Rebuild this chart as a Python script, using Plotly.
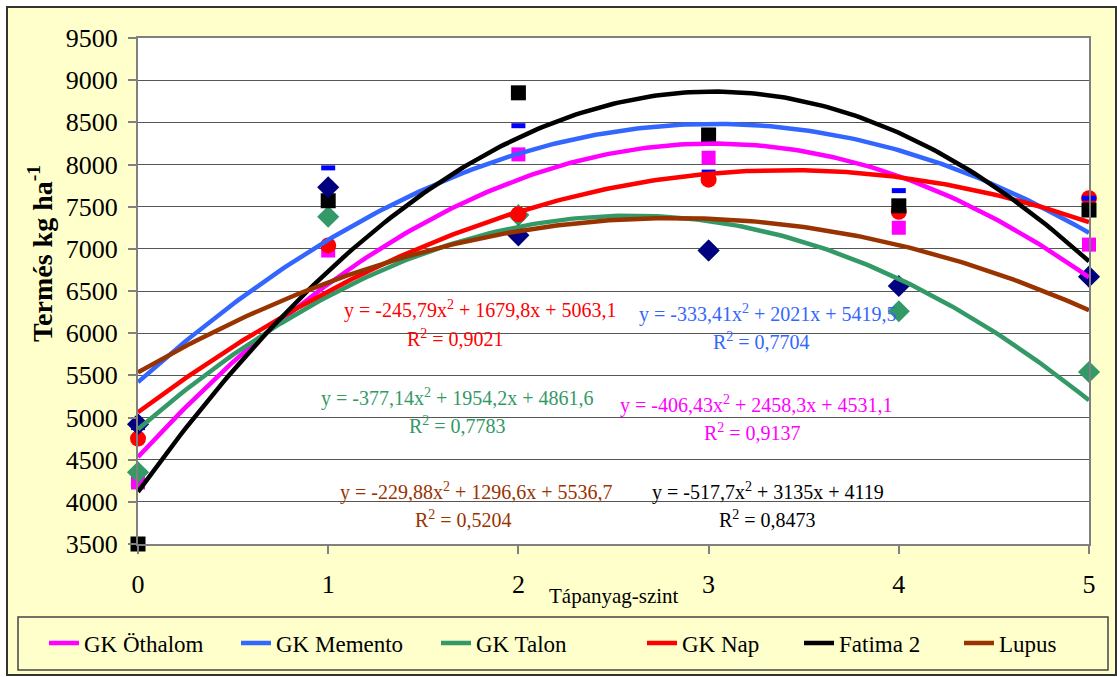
import numpy as np
import plotly.graph_objects as go

# ---------------- data ----------------
levels = [0, 1, 2, 3, 4, 5]
series_names = ["GK Öthalom", "GK Memento", "GK Talon", "GK Nap", "Fatima 2", "Lupus"]

othalom = [4230, 6980, 8120, 8080, 7250, 7050]
memento = [4880, 7960, 8460, 7910, 7690, 7600]
talon = [4350, 7380, 7400, 6980, 6260, 5540]
nap = [4750, 7040, 7410, 7820, 7440, 7600]
fatima = [3500, 7570, 8850, 8350, 7510, 7460]
lupus = [4920, 7730, 7160, 6980, 6560, 6670]

# polynomial trendline coefficients (a, b, c) for y = a x^2 + b x + c, as printed on chart
coef_othalom = [-406.43, 2458.3, 4531.1]
coef_memento = [-333.41, 2021.0, 5419.5]
coef_talon = [-377.14, 1954.2, 4861.6]
coef_nap = [-245.79, 1679.8, 5063.1]
coef_fatima = [-517.7, 3135.0, 4119.0]
coef_lupus = [-229.88, 1296.6, 5536.7]

eq_texts = [
    "y = -406,43x<sup>2</sup> + 2458,3x + 4531,1",
    "y = -333,41x<sup>2</sup> + 2021x + 5419,5",
    "y = -377,14x<sup>2</sup> + 1954,2x + 4861,6",
    "y = -245,79x<sup>2</sup> + 1679,8x + 5063,1",
    "y = -517,7x<sup>2</sup> + 3135x + 4119",
    "y = -229,88x<sup>2</sup> + 1296,6x + 5536,7",
]
r2_texts = [
    "R<sup>2</sup> = 0,9137",
    "R<sup>2</sup> = 0,7704",
    "R<sup>2</sup> = 0,7783",
    "R<sup>2</sup> = 0,9021",
    "R<sup>2</sup> = 0,8473",
    "R<sup>2</sup> = 0,5204",
]
x_title = "Tápanyag-szint"
y_title = "<b>Termés kg ha<sup>-1</sup></b>"

# ---------------- styles ----------------
FONT = "Liberation Serif, Times New Roman, serif"
line_colors = ["#FF00FF", "#3366FF", "#339966", "#FF0000", "#000000", "#993300"]
values = [othalom, memento, talon, nap, fatima, lupus]
coefs = [coef_othalom, coef_memento, coef_talon, coef_nap, coef_fatima, coef_lupus]

marker_styles = {
    0: dict(symbol="square", size=14, color="#FF00FF"),
    1: dict(symbol="line-ew", size=10, color="#0000FF", line=dict(color="#0000FF", width=5)),
    2: dict(symbol="diamond", size=17, color="#339966"),
    3: dict(symbol="circle", size=16, color="#FF0000"),
    4: dict(symbol="square", size=15, color="#000000"),
    5: dict(symbol="diamond", size=17, color="#000080"),
}
marker_order = [0, 2, 3, 1, 4, 5]

# annotation positions (data coords) for equations
eq_pos = [(3.25, 5160), (3.31, 6239), (1.68, 5243), (1.80, 6275), (3.31, 4117), (1.78, 4117)]
r2_pos = [(3.23, 4828), (3.28, 5907), (1.68, 4911), (1.67, 5943), (3.31, 3796), (1.71, 3796)]

fig = go.Figure()

for i in marker_order:
    ms = dict(marker_styles[i])
    ms.setdefault("line", dict(width=0))
    fig.add_trace(go.Scatter(
        x=levels, y=values[i], mode="markers", marker=ms,
        showlegend=False, cliponaxis=False, hoverinfo="skip", name=series_names[i]))

xs = np.linspace(0, 5, 201)
legend_ids = ["legend", "legend2", "legend3", "legend4", "legend5", "legend6"]
for i in range(6):
    a, b, c = coefs[i]
    ys = a * xs ** 2 + b * xs + c
    fig.add_trace(go.Scatter(
        x=xs, y=ys, mode="lines", line=dict(color=line_colors[i], width=4.5),
        name=series_names[i], legend=legend_ids[i], showlegend=True))

for i in range(6):
    fig.add_annotation(x=eq_pos[i][0], y=eq_pos[i][1], xref="x", yref="y", text=eq_texts[i],
                       xanchor="center", yanchor="middle",
                       showarrow=False, font=dict(family=FONT, size=20, color=line_colors[i]))
    fig.add_annotation(x=r2_pos[i][0], y=r2_pos[i][1], xref="x", yref="y", text=r2_texts[i],
                       xanchor="center", yanchor="middle",
                       showarrow=False, font=dict(family=FONT, size=20, color=line_colors[i]))

# pixel helpers for layout (plot area 138..1089 x, 38..544 y)
PL, PR, PT, PB = 138, 1089, 38, 544
def px(x):
    return (x - PL) / (PR - PL)
def py(y):
    return (PB - y) / (PB - PT)

# axis titles
fig.add_annotation(x=px(40), y=py(254), xref="paper", yref="paper",
                   xanchor="center", yanchor="middle",
                   text=y_title, textangle=-90, showarrow=False,
                   font=dict(family=FONT, size=28, color="black"))
fig.add_annotation(x=0.5, y=py(596), xref="paper", yref="paper", text=x_title,
                   xanchor="center", yanchor="middle",
                   showarrow=False, font=dict(family=FONT, size=21, color="black"))

shapes = [
    dict(type="rect", xref="paper", yref="paper", x0=px(7), x1=px(1116), y0=py(675), y1=py(7),
         fillcolor="#FFFFCC", line=dict(color="#333333", width=2), layer="below"),
    dict(type="rect", xref="paper", yref="paper", x0=0, x1=1, y0=0, y1=1,
         fillcolor="white", line=dict(width=0), layer="below"),
    dict(type="rect", xref="paper", yref="paper", x0=px(18), x1=px(1108), y0=py(670), y1=py(617),
         fillcolor="rgba(0,0,0,0)", line=dict(color="#444444", width=1.5), layer="above"),
]

legend_starts = [44, 236, 436, 642, 799, 959]
legend_layouts = {}
for i, lid in enumerate(legend_ids):
    legend_layouts[lid] = dict(
        x=px(legend_starts[i]), y=py(643), xanchor="left", yanchor="middle",
        orientation="h", bgcolor="rgba(0,0,0,0)", borderwidth=0,
        font=dict(family=FONT, size=23, color="black"))

fig.update_layout(
    width=1117, height=677,
    margin=dict(l=PL, r=1117 - PR, t=PT, b=677 - PB),
    paper_bgcolor="white", plot_bgcolor="white",
    font=dict(family=FONT, color="black"),
    shapes=shapes,
    **legend_layouts,
)

fig.update_xaxes(
    range=[0, 5], dtick=1, tick0=0, showgrid=False, zeroline=False,
    ticks="outside", ticklen=8, tickcolor="#808080", tickwidth=1.5,
    showline=True, linecolor="#808080", linewidth=2, mirror=True,
    ticklabelstandoff=8,
    tickfont=dict(family=FONT, size=26, color="black"),
)
fig.update_yaxes(
    range=[3500, 9500], dtick=500, tick0=3500, showgrid=True, gridcolor="#555555", gridwidth=1,
    zeroline=False, ticks="outside", ticklen=8, tickcolor="#808080", tickwidth=1.5,
    showline=True, linecolor="#808080", linewidth=2, mirror=True,
    ticklabelstandoff=5,
    tickfont=dict(family=FONT, size=26, color="black"),
)

fig.write_html("out.html", config={"displayModeBar": False},
               post_script="document.body.style.margin='0';document.body.style.padding='0';")
